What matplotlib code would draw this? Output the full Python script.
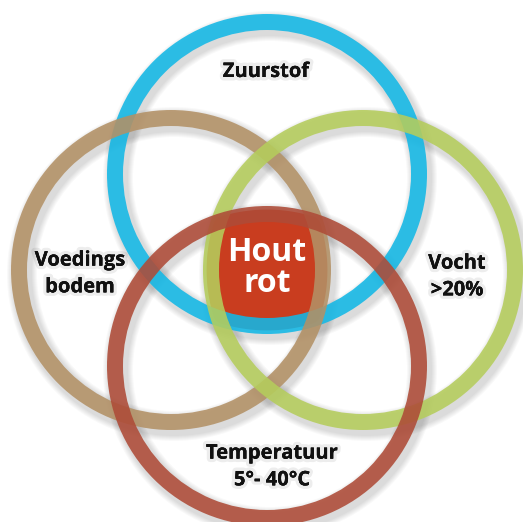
import numpy as np
import matplotlib
matplotlib.use("Agg")
import matplotlib.pyplot as plt
from matplotlib.patches import Wedge, PathPatch
from matplotlib.path import Path
import matplotlib.patheffects as pe

# ring labels and colours
names = ["Zuurstof", "Voedings\nbodem", "Vocht\n>20%", "Temperatuur\n5°- 40°C"]
ring_colors = ["#12b8e6", "#b39166", "#b5cd5c", "#ae4b37"]
centre_label = "Hout\nrot"
centre_color = "#c93d1f"

# layout (pixels, y down)
centres = [(267, 174), (171, 270), (363, 270), (267, 366)]
label_pos = [(266, 72), (80, 274), (457, 277), (272, 467)]
R = 160
W = 16

fig = plt.figure(figsize=(5.23, 5.22), dpi=100)
ax = fig.add_axes([0, 0, 1, 1])
ax.set_xlim(0, 523)
ax.set_ylim(522, 0)
ax.set_aspect("equal")
ax.axis("off")

# soft shadows
for (cx, cy) in centres:
    for k in range(6):
        ax.add_patch(Wedge((cx + 3, cy + 4), R + 2 + k, 0, 360, width=W + 4 + 2 * k,
                           color="#000000", alpha=0.025, lw=0, zorder=1))

# centre area: intersection of the four discs, corners rounded by a thick stroke
c0 = np.array([267.0, 270.0])
th = np.linspace(0, 2 * np.pi, 720, endpoint=False)
d = np.stack([np.cos(th), np.sin(th)], axis=1)
r_in = 146
ts = []
for (cx, cy) in centres:
    v = np.array([cx, cy]) - c0
    b = d @ v
    ts.append(b + np.sqrt(b ** 2 - v @ v + r_in ** 2))
t = np.min(ts, axis=0)
pts = c0 + d * t[:, None]
poly = Path(np.vstack([pts, pts[:1]]), closed=True)
ax.add_patch(PathPatch(poly, facecolor=centre_color, edgecolor=centre_color,
                       lw=15, joinstyle="round", zorder=2))

# rings
for (cx, cy), col in zip(centres, ring_colors):
    ax.add_patch(Wedge((cx, cy), R, 0, 360, width=W, color=col, alpha=0.88,
                       lw=0, zorder=3))

shadow = [pe.withStroke(linewidth=5, foreground=(0, 0, 0, 0.07)), pe.Normal()]
for (x, y), s in zip(label_pos, names):
    ax.text(x, y, s, ha="center", va="center", fontsize=14.5, fontweight="bold",
            family="Open Sans", linespacing=1.45, color="#111111",
            path_effects=shadow, zorder=5)

ax.text(267, 268, centre_label, ha="center", va="center", fontsize=23,
        fontweight="bold", family="Open Sans", color="white", linespacing=0.95,
        zorder=6)

fig.savefig("out.png", dpi=100, facecolor="white")
